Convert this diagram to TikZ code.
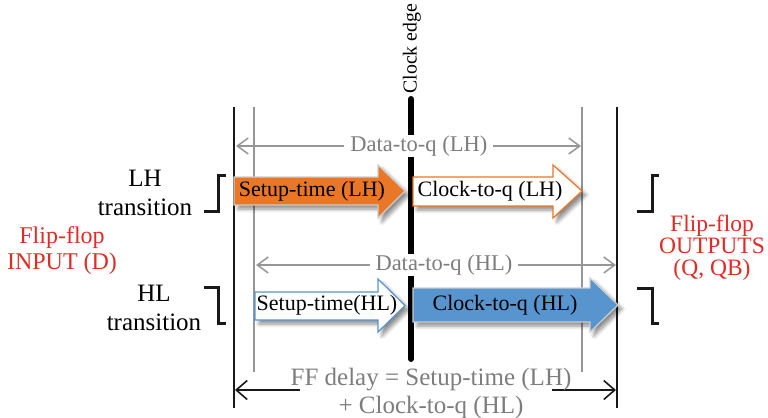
\documentclass[tikz,border=0pt]{standalone}
\usepackage{fontspec}
\setmainfont{Liberation Serif}
\usetikzlibrary{arrows.meta, positioning, shadows.blur}
\definecolor{setuporange}{RGB}{234, 119, 38}
\definecolor{clockblue}{RGB}{88, 148, 206}
\definecolor{framegray}{RGB}{150, 150, 150}
\definecolor{labelgray}{RGB}{125, 125, 125}
\definecolor{ffred}{RGB}{222, 45, 38}

\begin{document}
\begin{tikzpicture}[x=0.5pt, y=-0.5pt,
			frame/.style={line width=0.8pt, draw=black!90},
			guide/.style={line width=0.8pt, draw=framegray},
			span/.style={{Straight Barb[length=5.5pt, width=8pt]}-{Straight Barb[length=5.5pt, width=8pt]}, line width=0.75pt, draw=framegray},
			spanlabel/.style={fill=white, text=labelgray, inner xsep=3pt, inner ysep=0.5pt, font=\fontsize{11.25}{13}\selectfont},
			delay/.style={-{Straight Barb[length=5.5pt, width=9.5pt]}, line width=0.8pt, draw=black!90},
			fatarrow/.style={line width=0.6pt, blur shadow={shadow xshift=2pt, shadow yshift=-2pt, shadow blur steps=6, shadow opacity=45}},
			arrowtext/.style={inner sep=0pt, font=\fontsize{11}{13}\selectfont},
			trans/.style={align=center, inner sep=0pt, font=\fontsize{12.5}{14.5}\selectfont},
			wave/.style={line width=1.5pt, draw=black!90},
			ffio/.style={align=center, inner sep=0pt, text=ffred}
		]
		\useasboundingbox (0,0) rectangle (768,418);
		
		% time marks
		\coordinate (inTop) at (234,107);
		\coordinate (inBot) at (234,408);
		\coordinate (outTop) at (617,107);
		\coordinate (outBot) at (617,408);
		\coordinate (suTop) at (254,107);
		\coordinate (suBot) at (254,372);
		\coordinate (cqTop) at (582,107);
		\coordinate (cqBot) at (582,372);
		\coordinate (clkTop) at (411,99);
		\coordinate (clkBot) at (411,359);
		\draw[frame] (inTop) -- (inBot);
		\draw[frame] (outTop) -- (outBot);
		\draw[guide] (suTop) -- (suBot);
		\draw[guide] (cqTop) -- (cqBot);
		\draw[line width=3pt, line cap=round] (clkTop) -- (clkBot);
		\node[rotate=90, anchor=west, inner sep=0pt, font=\fontsize{9.9}{12}\selectfont] (clklabel) at (412,94) {Clock edge};
		
		% data-to-q spans
		\coordinate (dqLHl) at (236,146);
		\coordinate (dqLHr) at (581,146);
		\coordinate (dqHLl) at (256,265);
		\coordinate (dqHLr) at (616,265);
		\draw[span] (dqLHl) -- (dqLHr) node[spanlabel, pos=0.53] (dqLH) {Data-to-q (LH)};
		\draw[span] (dqHLl) -- (dqHLr) node[spanlabel, pos=0.522] (dqHL) {Data-to-q (HL)};
		
		% block arrows
		\filldraw[fatarrow, fill=setuporange, draw=white!80!black] (234,177) -- (378,177) -- (378,165) -- (405,191) -- (378,218) -- (378,205) -- (234,205) -- cycle;
		\filldraw[fatarrow, fill=white, draw=setuporange] (413,177) -- (553,177) -- (553,165) -- (582,191) -- (553,218) -- (553,206) -- (413,206) -- cycle;
		\filldraw[fatarrow, fill=white, draw=clockblue] (255,292) -- (378,292) -- (378,279) -- (405,305.5) -- (378,332) -- (378,320) -- (255,320) -- cycle;
		\filldraw[fatarrow, fill=clockblue, draw=white!80!black] (413,288) -- (590,288) -- (590,278) -- (618,305) -- (590,332) -- (590,322) -- (413,322) -- cycle;
		\node[arrowtext] (setupLH) at (312,191) {Setup-time (LH)};
		\node[arrowtext] (clockLH) at (490,191) {Clock-to-q (LH)};
		\node[arrowtext] (setupHL) at (327,305) {Setup-time(HL)};
		\node[arrowtext] (clockHL) at (505,305) {Clock-to-q (HL)};
		
		% transitions
		\draw[wave] (204,211) -- (218,211) -- (218,175) -- (226,175);
		\draw[wave] (204,287) -- (218,287) -- (218,323) -- (226,323);
		\draw[wave] (637,211) -- (652,211) -- (652,175) -- (659,175);
		\draw[wave] (637,288) -- (652,288) -- (652,323) -- (659,323);
		\node[trans, anchor=base] (lhtrans) at (145,215) {LH\\transition};
		\node[trans, anchor=base] (hltrans) at (154,330) {HL\\transition};
		\node[ffio, anchor=base, font=\fontsize{12}{13}\selectfont] (ffin) at (62,269) {Flip-flop\\INPUT (D)};
		\node[ffio, anchor=base, font=\fontsize{11.75}{10.8}\selectfont] (ffout) at (712,275) {Flip-flop\\OUTPUTS\\(Q, QB)};
		
		% total delay
		\coordinate (ffL) at (235,390);
		\coordinate (ffR) at (616,390);
		\coordinate (ffLe) at (300,390);
		\coordinate (ffRe) at (552,390);
		\draw[delay] (ffLe) -- (ffL);
		\draw[delay] (ffRe) -- (ffR);
		\node[align=center, inner sep=0pt, anchor=base, text=labelgray, font=\fontsize{12.5}{14}\selectfont] (ffdelay) at (431,413) {FF delay = Setup-time (LH)\\+ Clock-to-q (HL)};
		\end{tikzpicture}
\end{document}
